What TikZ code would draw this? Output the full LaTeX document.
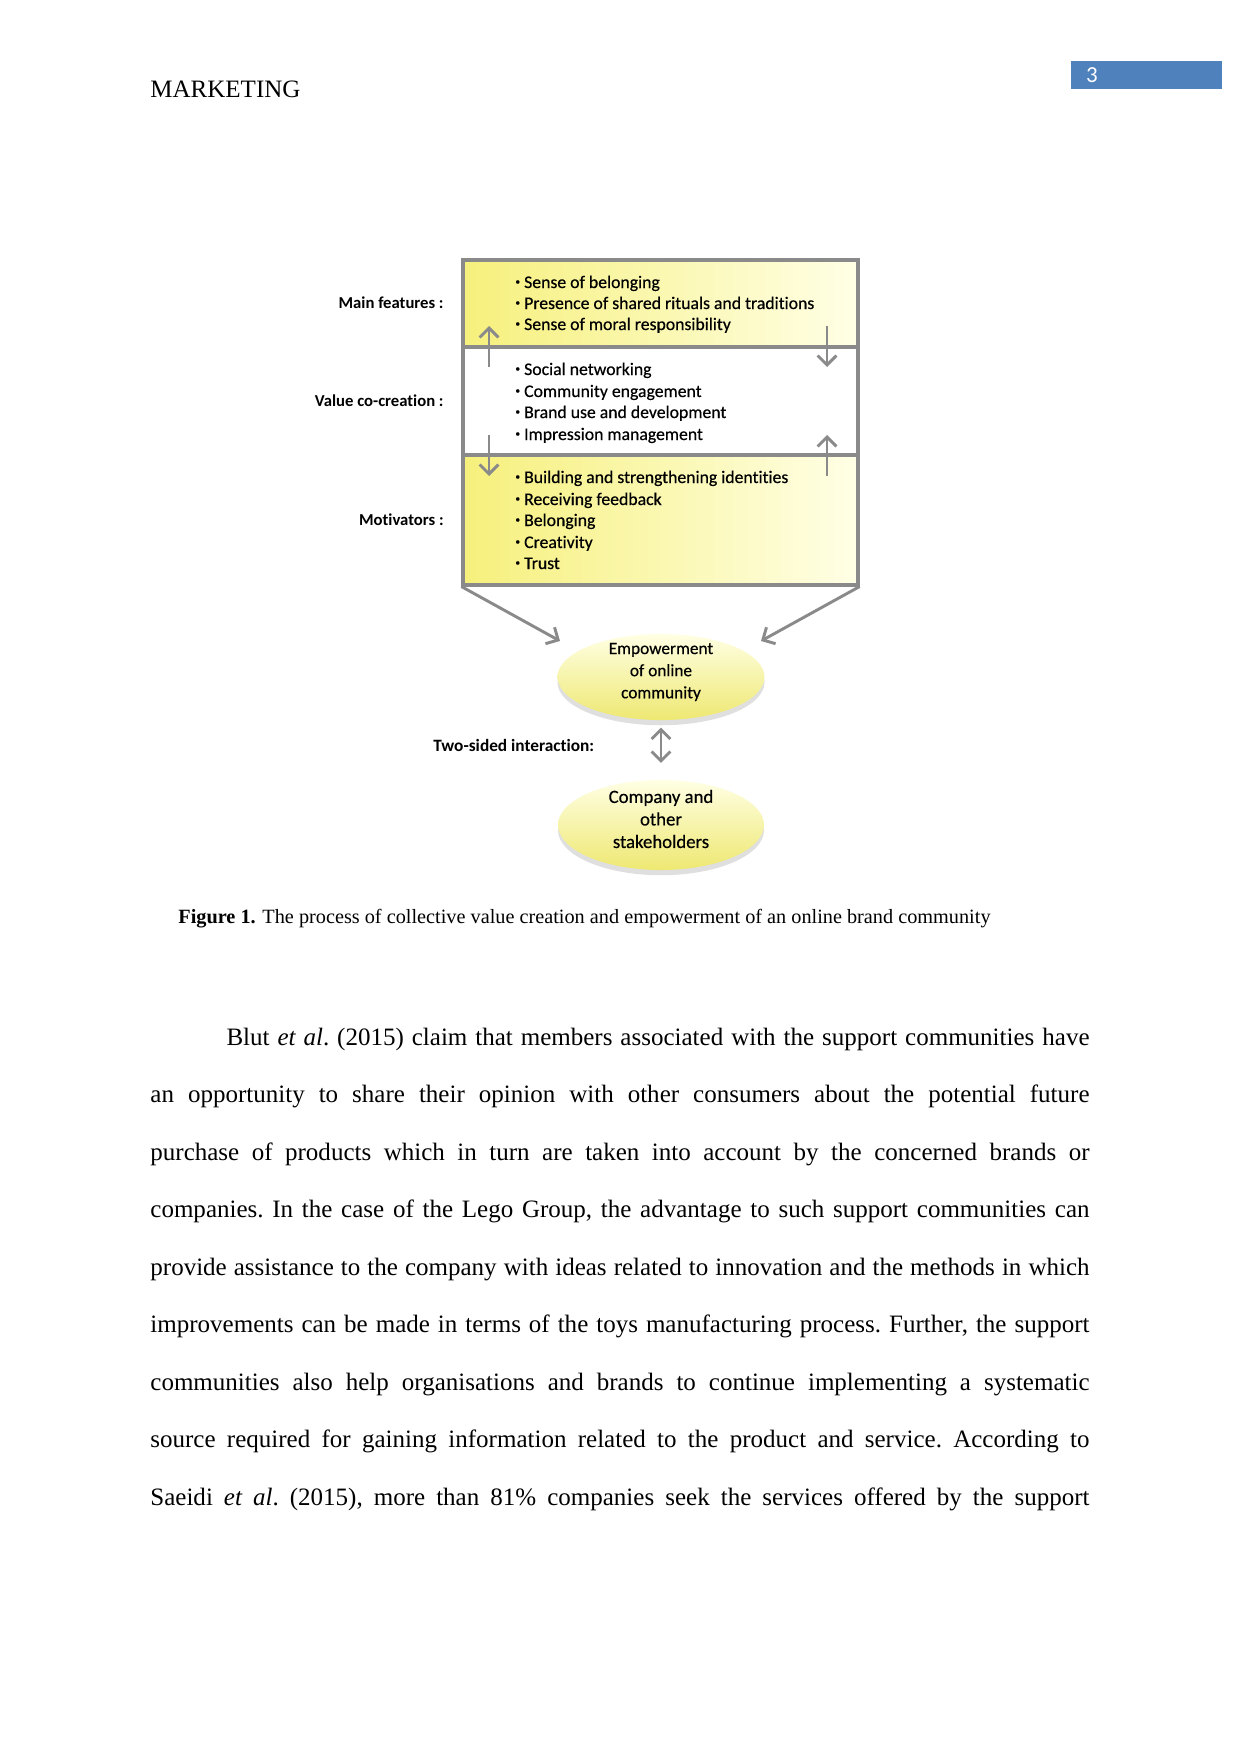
\documentclass[tikz,border=0pt]{standalone}
\usepackage{fontspec}
\setmainfont{Liberation Serif}
\newfontfamily\calfont[Ligatures=NoCommon]{Carlito}
\newfontfamily\calsemi[FakeBold=0.4,Ligatures=NoCommon]{Carlito}
\usetikzlibrary{arrows.meta,shapes.geometric,shadows,fit}
\definecolor{lineg}{HTML}{8A8A8A}
\definecolor{yA}{HTML}{F6F07C}
\definecolor{yB}{HTML}{FFFFE6}
\definecolor{eTop}{HTML}{FFFFE4}
\definecolor{eBot}{HTML}{EEE872}
\definecolor{pgblue}{HTML}{4F81BD}
\newcommand{\bitem}[1]{\makebox[4.2pt][l]{\raisebox{1.6pt}{\fontsize{4.5}{5}\selectfont\textbullet}}#1}
\begin{document}
\begin{tikzpicture}[x=0.4797pt,y=-0.4797pt,
  sect/.style={draw=lineg, line width=1.5pt, inner sep=0pt},
  lbl/.style={anchor=base east, inner sep=0pt, font=\calfont\bfseries\fontsize{8}{9.6}\selectfont},
  item/.style={anchor=base west, inner sep=0pt, font=\calsemi\fontsize{8.5}{10}\selectfont},
  flow/.style={draw=lineg, line width=1.4pt, -{Straight Barb[length=4.5pt,width=9pt]}},
  dflow/.style={draw=lineg, line width=1.4pt, {Straight Barb[length=4.5pt,width=9pt]}-{Straight Barb[length=4.5pt,width=9pt]}},
  ell/.style={ellipse, inner sep=0pt, top color=eTop, bottom color=eBot,
    drop shadow={shadow xshift=0pt, shadow yshift=-2.5pt, opacity=0.25}},
  etext/.style={inner sep=0pt, align=center, font=\calsemi\fontsize{8.3}{10.6}\selectfont},
  bodyline/.style={anchor=base west, inner sep=0pt, font=\fontsize{12}{14}\selectfont\frenchspacing}
]
\fill[white] (0,0) rectangle (1241,1754);
\useasboundingbox (0,0) rectangle (1241,1754);

% header
\node[anchor=base west, inner sep=0pt, font=\fontsize{12}{14}\selectfont] (hdr) at (150,98) {MARKETING};
\node[fill=pgblue, anchor=north west, minimum width=72pt, minimum height=13pt, inner sep=0pt] (pg) at (1071,61) {};
\node[anchor=base, inner sep=0pt, text=white, font=\calfont\fontsize{11}{13}\selectfont] (pgn) at (1092,83) {3};

% box sections
\node[sect, fit={(463,260)(858,347)}, left color=yA, right color=yB] (sec1) {};
\node[sect, fit={(463,347)(858,455)}, fill=white] (sec2) {};
\node[sect, fit={(463,455)(858,585)}, left color=yA, right color=yB] (sec3) {};

% labels
\node[lbl] (l1) at (444,308) {Main features :};
\node[lbl] (l2) at (444,406) {Value co-creation :};
\node[lbl] (l3) at (444,525) {Motivators :};

% items
\node[item] (a1) at (515,288) {\bitem{Sense of belonging}};
\node[item] (a2) at (515,309) {\bitem{Presence of shared rituals and traditions}};
\node[item] (a3) at (515,330) {\bitem{Sense of moral responsibility}};
\node[item] (b1) at (515,375) {\bitem{Social networking}};
\node[item] (b2) at (515,397) {\bitem{Community engagement}};
\node[item] (b3) at (515,418) {\bitem{Brand use and development}};
\node[item] (b4) at (515,440) {\bitem{Impression management}};
\node[item] (c1) at (515,483) {\bitem{Building and strengthening identities}};
\node[item] (c2) at (515,505) {\bitem{Receiving feedback}};
\node[item] (c3) at (515,526) {\bitem{Belonging}};
\node[item] (c4) at (515,548) {\bitem{Creativity}};
\node[item] (c5) at (515,569) {\bitem{Trust}};

% internal arrows
\coordinate (u1s) at (489,367); \coordinate (u1e) at (489,326);
\coordinate (d1s) at (827,326); \coordinate (d1e) at (827,367);
\coordinate (d2s) at (489,435); \coordinate (d2e) at (489,476);
\coordinate (u2s) at (827,476); \coordinate (u2e) at (827,435);
\draw[flow] (u1s) -- (u1e);
\draw[flow] (d1s) -- (d1e);
\draw[flow] (d2s) -- (d2e);
\draw[flow] (u2s) -- (u2e);

% ellipses
\node[ell, minimum width=99.3pt, minimum height=41.3pt] (emp) at (661,677) {};
\node[etext] (empT) at (661,672) {Empowerment\\of online\\community};
\node[ell, minimum width=98.8pt, minimum height=43.2pt] (comp) at (661,825) {};
\node[etext, font=\calsemi\fontsize{9}{10.8}\selectfont] (compT) at (661,819) {Company and\\other\\stakeholders};

\coordinate (lt) at (560,641);
\coordinate (rt) at (761,641);
\draw[flow] (sec3.south west) -- (lt);
\draw[flow] (sec3.south east) -- (rt);
\draw[dflow] ([yshift=-3.4pt]emp.south) -- ([yshift=8pt]comp.north);
\node[anchor=base west, inner sep=0pt, font=\calfont\bfseries\fontsize{8.3}{10}\selectfont] (two) at (433,751) {Two-sided interaction:};

% caption
\node[anchor=base west, inner sep=0pt, font=\fontsize{9.72}{11.5}\selectfont] (cap) at (178,923) {\textbf{Figure 1.} The process of collective value creation and empowerment of an online brand community};

% body text
\node[bodyline] (t1) at (150,1045) {\makebox[450.5pt][s]{\hspace*{36.5pt}Blut \textit{et al}. (2015) claim that members associated with the support communities have}};
\node[bodyline] (t2) at (150,1102.5) {\makebox[450.5pt][s]{an opportunity to share their opinion with other consumers about the potential future}};
\node[bodyline] (t3) at (150,1160) {\makebox[450.5pt][s]{purchase of products which in turn are taken into account by the concerned brands or}};
\node[bodyline] (t4) at (150,1217.5) {\makebox[450.5pt][s]{companies. In the case of the Lego Group, the advantage to such support communities can}};
\node[bodyline] (t5) at (150,1275) {\makebox[450.5pt][s]{provide assistance to the company with ideas related to innovation and the methods in which}};
\node[bodyline] (t6) at (150,1332.5) {\makebox[450.5pt][s]{improvements can be made in terms of the toys manufacturing process. Further, the support}};
\node[bodyline] (t7) at (150,1390) {\makebox[450.5pt][s]{communities also help organisations and brands to continue implementing a systematic}};
\node[bodyline] (t8) at (150,1447.5) {\makebox[450.5pt][s]{source required for gaining information related to the product and service. According to}};
\node[bodyline] (t9) at (150,1505) {\makebox[450.5pt][s]{Saeidi \textit{et al}. (2015), more than 81\% companies seek the services offered by the support}};
\end{tikzpicture}
\end{document}
